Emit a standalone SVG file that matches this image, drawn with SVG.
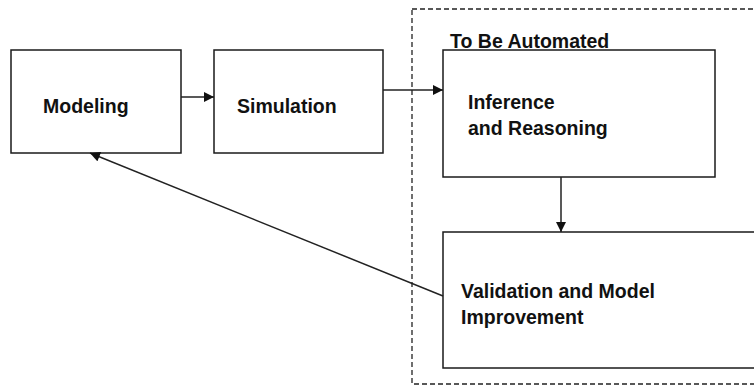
<svg xmlns="http://www.w3.org/2000/svg" width="754" height="386" viewBox="0 0 754 386">
<style>
.box{fill:#fff;stroke:#1a1a1a;stroke-width:1.5}
.lbl{font-family:"Liberation Sans",Arial,sans-serif;font-weight:bold;font-size:19.5px;fill:#111}
.con{stroke:#222;stroke-width:1.5;fill:none}
.dash{fill:none;stroke:#222;stroke-width:1.3;stroke-dasharray:5,3}
</style>
<defs>
<marker id="ah" viewBox="0 0 10 10" refX="10" refY="5" markerWidth="12" markerHeight="10" markerUnits="userSpaceOnUse" orient="auto">
<path d="M0,0 L10,5 L0,10 Z" fill="#111"/>
</marker>
</defs>
<g id="group-automated">
<rect class="dash" x="412" y="9" width="360" height="375"/>
<text class="lbl" x="450" y="48">To Be Automated</text>
</g>
<g id="node-modeling">
<rect class="box" x="11" y="50" width="170" height="103"/>
<text class="lbl" x="43" y="113">Modeling</text>
</g>
<g id="node-simulation">
<rect class="box" x="214" y="50" width="169" height="103"/>
<text class="lbl" x="237" y="113">Simulation</text>
</g>
<g id="node-inference">
<rect class="box" x="443" y="50" width="272" height="127"/>
<text class="lbl" x="468" y="109">Inference</text>
<text class="lbl" x="468" y="135">and Reasoning</text>
</g>
<g id="node-validation">
<rect class="box" x="443" y="232" width="330" height="136"/>
<text class="lbl" x="461" y="298">Validation and Model</text>
<text class="lbl" x="461" y="324">Improvement</text>
</g>
<g id="connectors">
<line class="con" x1="181" y1="97" x2="214" y2="97" marker-end="url(#ah)"/>
<line class="con" x1="383" y1="90" x2="443" y2="90" marker-end="url(#ah)"/>
<line class="con" x1="561" y1="177" x2="561" y2="232" marker-end="url(#ah)"/>
<line class="con" x1="443" y1="296" x2="90" y2="153" marker-end="url(#ah)"/>
</g>
</svg>
